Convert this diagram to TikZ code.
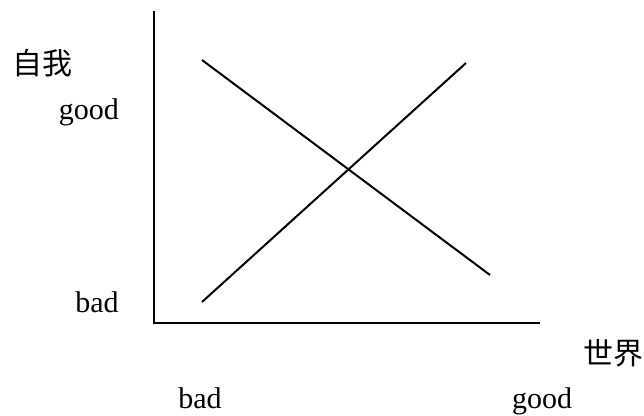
\documentclass[tikz,border=0pt]{standalone}
\usepackage{fontspec}
\setmainfont{Liberation Serif}
\newfontfamily\cjk{Noto Sans CJK SC}
\usepackage{tikz}

\begin{document}
\begin{tikzpicture}[x=0.5pt, y=-0.5pt, line width=1pt,
		every node/.style={inner sep=0pt, font=\fontsize{15}{18}\selectfont},
		zh/.style={font=\cjk\fontsize{15}{18}\selectfont}]
	\useasboundingbox (0,0) rectangle (644,416);
	% --- 坐标轴 ---
	\coordinate (ytop) at (154,11);
	\coordinate (o) at (154,323);
	\coordinate (xend) at (540,323);
	\draw (ytop) -- (o) -- (xend);
	% 两条直线
	\coordinate (a1) at (202,60);
	\coordinate (a2) at (490,275);
	\coordinate (b1) at (202,302);
	\coordinate (b2) at (466,63);
	\draw (a1) -- (a2);
	\draw (b1) -- (b2);
	% --- 标注 ---
	\node[zh] (self) at (42,63) {自我};
	\node[anchor=base] (ygood) at (89,120) {good};
	\node[anchor=base] (ybad) at (97,313) {bad};
	\node[zh] (world) at (613,353) {世界};
	\node[anchor=base] (xbad) at (200,409) {bad};
	\node[anchor=base] (xgood) at (542,409) {good};
\end{tikzpicture}
\end{document}
